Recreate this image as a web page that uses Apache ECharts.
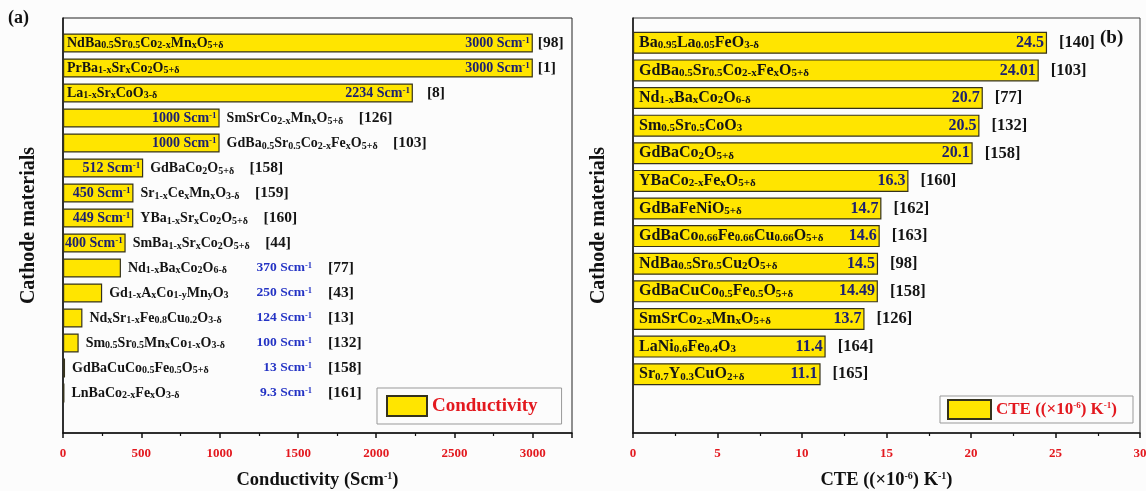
<!DOCTYPE html>
<html>
<head>
<meta charset="utf-8">
<script src="https://cdn.jsdelivr.net/npm/echarts@6/dist/echarts.min.js"></script>
<style>
html, body { margin: 0; padding: 0; background: #fcfcfc; }
#chart { width: 1146px; height: 491px; }
</style>
</head>
<body>
<div id="chart"></div>
<script>
// (a) conductivity, '_' toggles subscript
const condFormulas = [
  'NdBa_0.5_Sr_0.5_Co_2-x_Mn_x_O_5+δ_',
  'PrBa_1-x_Sr_x_Co_2_O_5+δ_',
  'La_1-x_Sr_x_CoO_3-δ_',
  'SmSrCo_2-x_Mn_x_O_5+δ_',
  'GdBa_0.5_Sr_0.5_Co_2-x_Fe_x_O_5+δ_',
  'GdBaCo_2_O_5+δ_',
  'Sr_1-x_Ce_x_Mn_x_O_3-δ_',
  'YBa_1-x_Sr_x_Co_2_O_5+δ_',
  'SmBa_1-x_Sr_x_Co_2_O_5+δ_',
  'Nd_1-x_Ba_x_Co_2_O_6-δ_',
  'Gd_1-x_A_x_Co_1-y_Mn_y_O_3_',
  'Nd_x_Sr_1-x_Fe_0.8_Cu_0.2_O_3-δ_',
  'Sm_0.5_Sr_0.5_Mn_x_Co_1-x_O_3-δ_',
  'GdBaCuCo_0.5_Fe_0.5_O_5+δ_',
  'LnBaCo_2-x_Fe_x_O_3-δ_'
];
const condValues = [3000, 3000, 2234, 1000, 1000, 512, 450, 449, 400, 370, 250, 124, 100, 13, 9.3];
const condRefs = [98, 1, 8, 126, 103, 158, 159, 160, 44, 77, 43, 13, 132, 158, 161];
// where the labels of each row sit
const condPlace = ['in', 'in', 'in', 'mid', 'mid', 'mid', 'mid', 'mid', 'mid', 'out', 'out', 'out', 'out', 'out', 'out'];

// (b) CTE
const cteFormulas = [
  'Ba_0.95_La_0.05_FeO_3-δ_',
  'GdBa_0.5_Sr_0.5_Co_2-x_Fe_x_O_5+δ_',
  'Nd_1-x_Ba_x_Co_2_O_6-δ_',
  'Sm_0.5_Sr_0.5_CoO_3_',
  'GdBaCo_2_O_5+δ_',
  'YBaCo_2-x_Fe_x_O_5+δ_',
  'GdBaFeNiO_5+δ_',
  'GdBaCo_0.66_Fe_0.66_Cu_0.66_O_5+δ_',
  'NdBa_0.5_Sr_0.5_Cu_2_O_5+δ_',
  'GdBaCuCo_0.5_Fe_0.5_O_5+δ_',
  'SmSrCo_2-x_Mn_x_O_5+δ_',
  'LaNi_0.6_Fe_0.4_O_3_',
  'Sr_0.7_Y_0.3_CuO_2+δ_'
];
const cteValues = ['24.5', '24.01', '20.7', '20.5', '20.1', '16.3', '14.7', '14.6', '14.5', '14.49', '13.7', '11.4', '11.1'];
const cteRefs = [140, 103, 77, 132, 158, 160, 162, 163, 98, 158, 126, 164, 165];

const SERIF = 'Liberation Serif';
const RED = '#e3191f';
const YELLOW = '#ffe500';

const toRich = s => s.split('_').map((p, i) => p === '' ? '' : (i % 2 ? '{s|' + p + '}' : '{f|' + p + '}')).join('');

const txt = (size, color, extra) => Object.assign({ fontFamily: SERIF, fontWeight: 'bold', fontSize: size, color: color }, extra || {});
const richSet = (fs, sub, vs, rs) => ({
  f: txt(fs, '#141414'),
  s: txt(sub, '#141414', { verticalAlign: 'bottom' }),
  v: txt(vs, '#1c2070'),
  vs: txt(9, '#1c2070', { verticalAlign: 'top' }),
  b: txt(13.5, '#2433c4'),
  bs: txt(8.5, '#2433c4', { verticalAlign: 'top' }),
  r: txt(rs, '#141414')
});
const condRich = richSet(14, 10, 14, 15.5);
const cteRich = richSet(16, 11, 16, 16.5);

const barStyle = { color: YELLOW, borderColor: '#35321c', borderWidth: 1.2 };
const ghost = { color: 'transparent', borderWidth: 0 };

const condSeries = [
  {
    name: 'Conductivity', type: 'bar', xAxisIndex: 1, yAxisIndex: 1, barWidth: 19, barGap: '-100%',
    itemStyle: barStyle, silent: true,
    label: { show: true, rich: condRich },
    data: condValues.map((v, i) => {
      const k = condPlace[i];
      const t = toRich(condFormulas[i]) + (k === 'mid' ? '{r|    [' + condRefs[i] + ']}' : '');
      return { value: v, label: { position: k === 'in' ? 'insideLeft' : 'right', distance: k === 'in' ? 4 : 7, formatter: t } };
    })
  },
  {
    type: 'bar', xAxisIndex: 1, yAxisIndex: 1, barWidth: 19, barGap: '-100%', itemStyle: ghost, silent: true,
    label: { show: true, rich: condRich },
    data: condValues.map((v, i) => {
      if (condPlace[i] === 'out') {
        return { value: v, label: { position: [249, '50%'], align: 'right', verticalAlign: 'middle',
          formatter: '{b|' + v + ' Scm}{bs|-1}' } };
      }
      return { value: v, label: { position: 'insideRight', distance: 3, formatter: '{v|' + v + ' Scm}{vs|-1}' } };
    })
  },
  {
    type: 'bar', xAxisIndex: 1, yAxisIndex: 1, barWidth: 19, barGap: '-100%', itemStyle: ghost, silent: true,
    label: { show: true, rich: condRich },
    data: condValues.map((v, i) => {
      const k = condPlace[i];
      if (k === 'mid') return { value: v, label: { show: false } };
      if (k === 'out') {
        return { value: v, label: { position: [265, '50%'], align: 'left', verticalAlign: 'middle', formatter: '{r|[' + condRefs[i] + ']}' } };
      }
      return { value: v, label: { position: 'right', distance: i === 2 ? 14 : 5, formatter: '{r|[' + condRefs[i] + ']}' } };
    })
  }
];

const cteSeries = [
  {
    name: 'CTE', type: 'bar', xAxisIndex: 3, yAxisIndex: 3, barWidth: 22, barGap: '-100%',
    itemStyle: barStyle, silent: true,
    label: { show: true, position: 'insideLeft', distance: 6, rich: cteRich, formatter: p => toRich(cteFormulas[p.dataIndex]) },
    data: cteValues.map(Number)
  },
  {
    type: 'bar', xAxisIndex: 3, yAxisIndex: 3, barWidth: 22, barGap: '-100%', itemStyle: ghost, silent: true,
    label: { show: true, position: 'insideRight', distance: 3, rich: cteRich, formatter: p => '{v|' + cteValues[p.dataIndex] + '}' },
    data: cteValues.map(Number)
  },
  {
    type: 'bar', xAxisIndex: 3, yAxisIndex: 3, barWidth: 22, barGap: '-100%', itemStyle: ghost, silent: true,
    label: { show: true, position: 'right', distance: 12, rich: cteRich, formatter: p => '{r|[' + cteRefs[p.dataIndex] + ']}' },
    data: cteValues.map(Number)
  }
];

const frameX = (max, interval, name) => ({
  type: 'value', min: 0, max: max, interval: interval,
  axisLine: { show: true, lineStyle: { color: '#111', width: 1.5 } },
  axisTick: { show: true, length: 5, lineStyle: { color: '#111', width: 1.5 } },
  minorTick: { show: true, splitNumber: 2, length: 3, lineStyle: { color: '#111', width: 1.2 } },
  splitLine: { show: false },
  axisLabel: { color: RED, fontFamily: SERIF, fontWeight: 'bold', fontSize: 13, margin: 14,
    showMaxLabel: max % interval === 0, formatter: v => String(v) },
  name: name, nameLocation: 'middle', nameGap: 38,
  nameTextStyle: { fontFamily: SERIF, fontWeight: 'bold', fontSize: 18.5, color: '#111',
    rich: { sup: { fontFamily: SERIF, fontWeight: 'bold', fontSize: 10, color: '#111', verticalAlign: 'top' } } }
});
const frameY = {
  type: 'value', min: 0, max: 1,
  axisLine: { show: true, lineStyle: { color: '#111', width: 1.5 } },
  axisTick: { show: false }, axisLabel: { show: false }, splitLine: { show: false },
  name: 'Cathode materials', nameLocation: 'middle', nameGap: 24,
  nameTextStyle: { fontFamily: SERIF, fontWeight: 'bold', fontSize: 20, color: '#111' }
};
const hiddenX = max => ({ type: 'value', min: 0, max: max, show: false });
const hiddenY = n => ({ type: 'category', inverse: true, show: false, data: Array.from({ length: n }, (_, i) => 'r' + i) });

const chart = echarts.init(document.getElementById('chart'));
chart.setOption({
  animation: false,
  backgroundColor: '#fcfcfc',
  grid: [
    { left: 63, right: 574, top: 18, bottom: 58, show: true, borderColor: '#222', borderWidth: 1, outerBoundsMode: 'none' },
    { left: 63, right: 574, top: 30.5, bottom: 85.5, outerBoundsMode: 'none' },
    { left: 633, right: 6, top: 18, bottom: 58, show: true, borderColor: '#444', borderWidth: 1, outerBoundsMode: 'none' },
    { left: 633, right: 6, top: 29, bottom: 103, outerBoundsMode: 'none' }
  ],
  xAxis: [
    Object.assign(frameX(3250, 500, 'Conductivity (Scm{sup|-1})'), { gridIndex: 0 }),
    Object.assign(hiddenX(3250), { gridIndex: 1 }),
    Object.assign(frameX(30, 5, 'CTE ((×10{sup|-6}) K{sup|-1})'), { gridIndex: 2 }),
    Object.assign(hiddenX(30), { gridIndex: 3 })
  ],
  yAxis: [
    Object.assign({}, frameY, { gridIndex: 0 }),
    Object.assign(hiddenY(condValues.length), { gridIndex: 1 }),
    Object.assign({}, frameY, { gridIndex: 2 }),
    Object.assign(hiddenY(cteValues.length), { gridIndex: 3 })
  ],
  legend: [
    {
      data: ['Conductivity'], left: 377, top: 388, orient: 'vertical',
      itemWidth: 40, itemHeight: 20, padding: [7, 24, 7, 9], itemGap: 10,
      borderColor: '#999', borderWidth: 1, backgroundColor: '#fcfcfc',
      icon: 'rect', selectedMode: false,
      textStyle: { color: RED, fontFamily: SERIF, fontWeight: 'bold', fontSize: 19 }
    },
    {
      data: ['CTE'], left: 940, top: 396, orient: 'vertical',
      itemWidth: 43, itemHeight: 19, padding: [3, 16, 3, 7], itemGap: 8,
      borderColor: '#999', borderWidth: 1, backgroundColor: '#fcfcfc',
      icon: 'rect', selectedMode: false,
      formatter: () => 'CTE ((×10{sup|-6}) K{sup|-1})',
      textStyle: { color: RED, fontFamily: SERIF, fontWeight: 'bold', fontSize: 17,
        rich: { sup: { color: RED, fontFamily: SERIF, fontWeight: 'bold', fontSize: 9, verticalAlign: 'top' } } }
    }
  ],
  graphic: [
    { type: 'text', left: 8, top: 9, style: { text: '(a)', font: 'bold 18px "Liberation Serif"', fill: '#111' } },
    { type: 'text', left: 1100, top: 29, style: { text: '(b)', font: 'bold 19px "Liberation Serif"', fill: '#111' } }
  ],
  series: condSeries.concat(cteSeries)
});
</script>
</body>
</html>
